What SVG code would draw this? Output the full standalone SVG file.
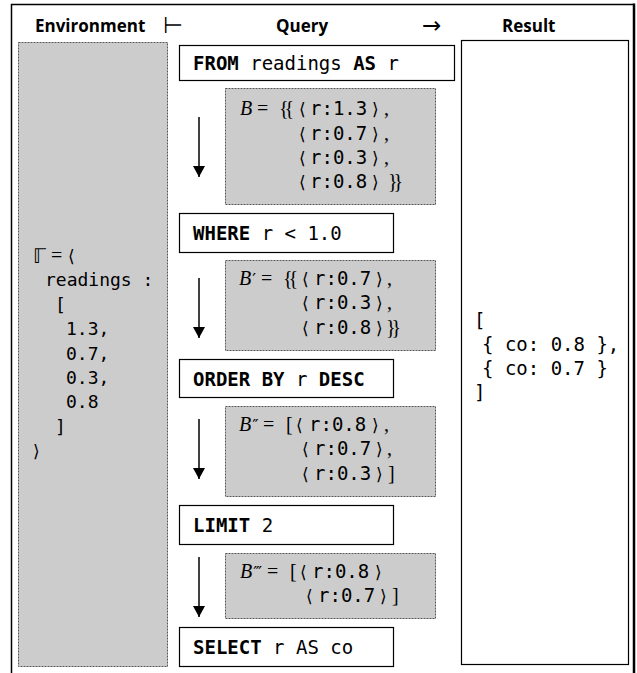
<svg xmlns="http://www.w3.org/2000/svg" width="637" height="673" viewBox="0 0 637 673">
<style>
.frame{fill:none;stroke:#000}
.box{fill:#fff;stroke:#000;stroke-width:1.2}
.shade{fill:#cccccc;stroke:#555;stroke-width:1;stroke-dasharray:2 1}
.hdr{font-family:"Open Sans","Liberation Sans",sans-serif;font-weight:bold;font-size:17px;fill:#000}
.sym{font-family:"DejaVu Sans",sans-serif;font-size:23px;fill:#000}
.mono{font-family:"DejaVu Sans Mono","Liberation Mono",monospace;font-size:18px;fill:#000}
.bm{font-family:"DejaVu Sans Mono","Liberation Mono",monospace;font-size:19px;fill:#000}
.q{font-family:"DejaVu Sans Mono","Liberation Mono",monospace;font-size:19px;fill:#000}
.b{font-weight:bold}
.m{font-family:"Liberation Serif","DejaVu Serif",serif;font-size:20px;fill:#000}
.it{font-style:italic}
.pr{font-family:"DejaVu Serif",serif;font-size:17px}
.ang{font-family:"DejaVu Sans","DejaVu Serif",sans-serif;font-size:17px;fill:#000}
.gam{font-family:"DejaVu Sans",sans-serif;font-size:20px;fill:#000}
.arrow{stroke:#000;stroke-width:1.5;fill:none}
</style>
<defs>
<marker id="ah" viewBox="0 0 11 12" refX="11" refY="6" markerWidth="11" markerHeight="12" markerUnits="userSpaceOnUse" orient="auto">
<path d="M0,0 L11,6 L0,12 Z" fill="#000"/>
</marker>
</defs>
<rect width="637" height="673" fill="#fff"/>
<g id="frame">
<path class="frame" d="M11.5,673 V4.5 H634" stroke-width="1.5"/>
<path class="frame" d="M634,3.5 V673" stroke-width="2.5"/>
</g>
<g id="headers">
<text class="hdr" x="35" y="32">Environment</text>
<text class="sym" x="163" y="33">⊢</text>
<text class="hdr" x="276" y="32">Query</text>
<text class="sym" x="422" y="33">→</text>
<text class="hdr" x="502" y="32">Result</text>
</g>
<g id="environment">
<rect class="shade" x="18.5" y="42.5" width="149" height="624"/>
<text class="gam" x="33" y="263">ℾ</text><text class="m" x="51" y="262">=</text><text class="ang" x="68" y="262">⟨</text>
<text class="mono" x="45" y="286">readings :</text>
<text class="mono" x="55" y="311">[</text>
<text class="mono" x="66" y="335">1.3,</text>
<text class="mono" x="66" y="360">0.7,</text>
<text class="mono" x="66" y="384">0.3,</text>
<text class="mono" x="66" y="408">0.8</text>
<text class="mono" x="55" y="433">]</text>
<text class="ang" x="33" y="457">⟩</text>
</g>
<g id="result">
<rect class="box" x="461.5" y="40.5" width="167" height="624"/>
<text class="q" x="474" y="327">[</text>
<text class="q" x="482" y="351">{ co: 0.8 },</text>
<text class="q" x="482" y="375">{ co: 0.7 }</text>
<text class="q" x="474" y="399">]</text>
</g>
<g id="from">
<rect class="box" x="179.5" y="45.5" width="275" height="35"/>
<text class="q" x="193" y="70"><tspan class="b">FROM</tspan> readings <tspan class="b">AS</tspan> r</text>
</g>
<g id="bag-B">
<rect class="shade" x="225.5" y="88.5" width="210" height="116"/>
<text class="m it" x="240" y="115">B</text><text class="m" x="257" y="115">=</text><text class="m" x="279" y="115" letter-spacing="-4">{{</text>
<text class="ang" x="299" y="115">⟨</text><text class="bm" x="310" y="115">r:1.3</text><text class="ang" x="372" y="115">⟩</text><text class="m" x="384" y="115">,</text>
<text class="ang" x="299" y="140">⟨</text><text class="bm" x="310" y="140">r:0.7</text><text class="ang" x="372" y="140">⟩</text><text class="m" x="384" y="140">,</text>
<text class="ang" x="299" y="164">⟨</text><text class="bm" x="310" y="164">r:0.3</text><text class="ang" x="372" y="164">⟩</text><text class="m" x="384" y="164">,</text>
<text class="ang" x="299" y="188">⟨</text><text class="bm" x="310" y="188">r:0.8</text><text class="ang" x="372" y="188">⟩</text><text class="m" x="388" y="188" letter-spacing="-4">}}</text>
</g>
<g id="where">
<rect class="box" x="179.5" y="213.5" width="214" height="39"/>
<text class="q" x="193" y="240"><tspan class="b">WHERE</tspan> r &lt; 1.0</text>
</g>
<g id="bag-B1">
<rect class="shade" x="225.5" y="260.5" width="210" height="90"/>
<text class="m" x="239" y="285"><tspan class="it">B</tspan><tspan class="pr" dx="1">′</tspan></text><text class="m" x="261" y="285">=</text><text class="m" x="283" y="285" letter-spacing="-4">{{</text>
<text class="ang" x="302" y="285">⟨</text><text class="bm" x="314" y="285">r:0.7</text><text class="ang" x="376" y="285">⟩</text><text class="m" x="387" y="285">,</text>
<text class="ang" x="302" y="309">⟨</text><text class="bm" x="314" y="309">r:0.3</text><text class="ang" x="376" y="309">⟩</text><text class="m" x="387" y="309">,</text>
<text class="ang" x="302" y="334">⟨</text><text class="bm" x="314" y="334">r:0.8</text><text class="ang" x="376" y="334">⟩</text><text class="m" x="386" y="334" letter-spacing="-4">}}</text>
</g>
<g id="orderby">
<rect class="box" x="179.5" y="359.5" width="214" height="38"/>
<text class="q" x="193" y="386"><tspan class="b">ORDER BY</tspan> r <tspan class="b">DESC</tspan></text>
</g>
<g id="bag-B2">
<rect class="shade" x="225.5" y="406.5" width="210" height="90"/>
<text class="m" x="239" y="431"><tspan class="it">B</tspan><tspan class="pr" dx="1">″</tspan></text><text class="m" x="263" y="431">=</text><text class="m" x="286" y="431">[</text>
<text class="ang" x="296" y="431">⟨</text><text class="bm" x="309" y="431">r:0.8</text><text class="ang" x="372" y="431">⟩</text><text class="m" x="384" y="431">,</text>
<text class="ang" x="302" y="455">⟨</text><text class="bm" x="314" y="455">r:0.7</text><text class="ang" x="376" y="455">⟩</text><text class="m" x="387" y="455">,</text>
<text class="ang" x="302" y="480">⟨</text><text class="bm" x="314" y="480">r:0.3</text><text class="ang" x="376" y="480">⟩</text><text class="m" x="388" y="480">]</text>
</g>
<g id="limit">
<rect class="box" x="179.5" y="505.5" width="214" height="39"/>
<text class="q" x="193" y="532"><tspan class="b">LIMIT</tspan> 2</text>
</g>
<g id="bag-B3">
<rect class="shade" x="225.5" y="553.5" width="210" height="65"/>
<text class="m" x="240" y="578"><tspan class="it">B</tspan><tspan class="pr" dx="1">‴</tspan></text><text class="m" x="267" y="578">=</text><text class="m" x="290" y="578">[</text>
<text class="ang" x="300" y="578">⟨</text><text class="bm" x="312" y="578">r:0.8</text><text class="ang" x="375" y="578">⟩</text>
<text class="ang" x="306" y="602">⟨</text><text class="bm" x="318" y="602">r:0.7</text><text class="ang" x="380" y="602">⟩</text><text class="m" x="392" y="602">]</text>
</g>
<g id="select">
<rect class="box" x="179.5" y="627.5" width="214" height="39"/>
<text class="q" x="193" y="654"><tspan class="b">SELECT</tspan> r AS co</text>
</g>
<g id="connectors">
<line class="arrow" x1="199" y1="117" x2="199" y2="177" marker-end="url(#ah)"/>
<line class="arrow" x1="199" y1="278" x2="199" y2="338" marker-end="url(#ah)"/>
<line class="arrow" x1="199" y1="419" x2="199" y2="479" marker-end="url(#ah)"/>
<line class="arrow" x1="199" y1="557" x2="199" y2="617" marker-end="url(#ah)"/>
</g>
</svg>
